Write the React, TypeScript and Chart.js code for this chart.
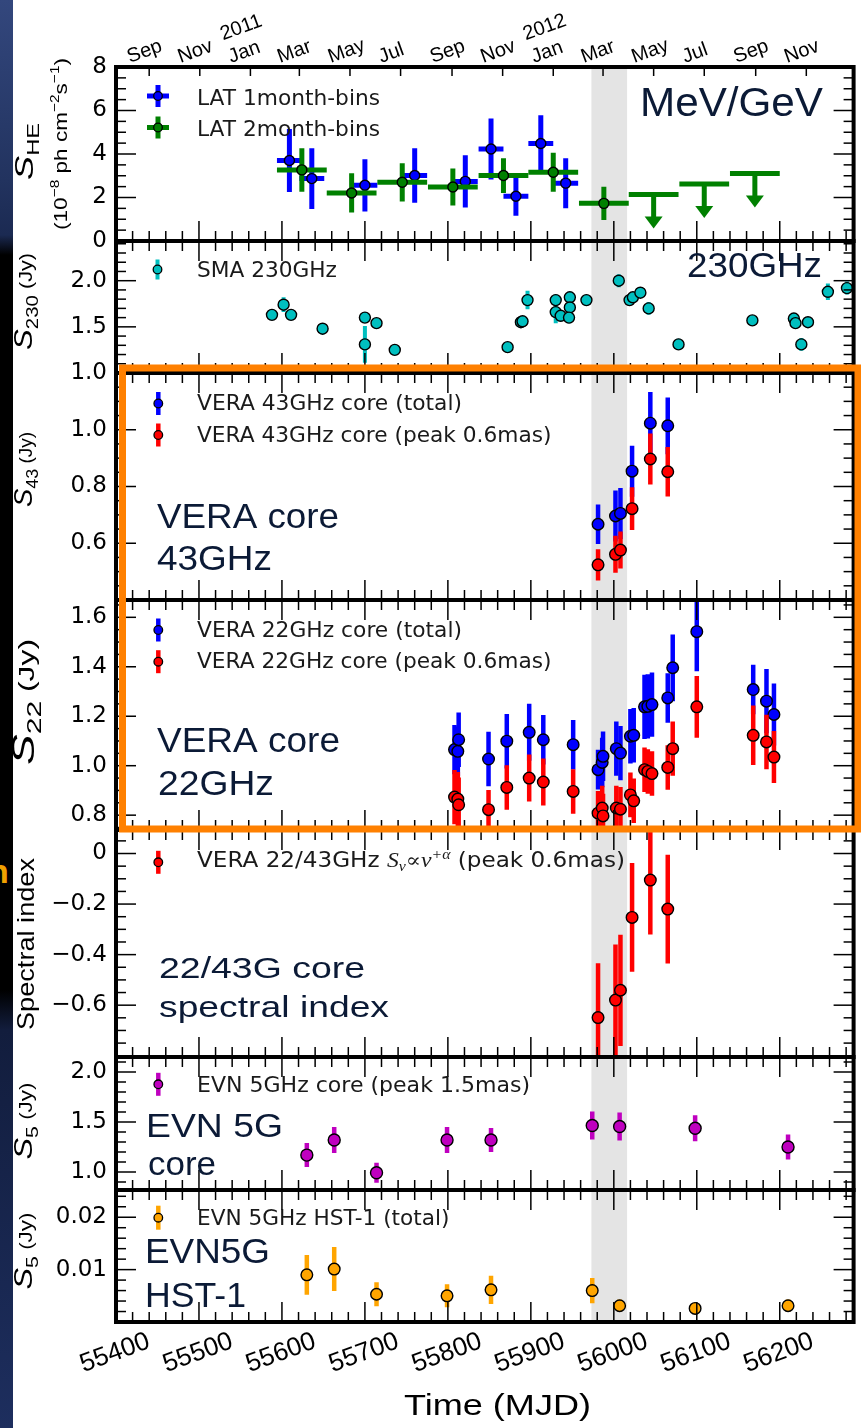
import { useEffect, useRef } from 'react';
import { Chart, registerables } from 'chart.js';

Chart.register(...registerables);

const SANS = '"Liberation Sans", Arial, sans-serif';
const DJV = '"DejaVu Sans", sans-serif';
const SERIF = '"Liberation Serif", "DejaVu Serif", serif';
const NAVY = '#0b1a36';

// ---------------- time axis ----------------
const mjdMin = 55400;
const mjdMax = 56289;
const mjdMinorStep = 20;
const mjdLabelValues = [55400, 55500, 55600, 55700, 55800, 55900, 56000, 56100, 56200];
const monthMjd = [55440, 55501, 55562, 55621, 55682, 55743, 55805, 55866, 55927, 55987, 56048, 56109, 56171, 56232];
const monthLabels = ['Sep', 'Nov', '2011|Jan', 'Mar', 'May', 'Jul', 'Sep', 'Nov', '2012|Jan', 'Mar', 'May', 'Jul', 'Sep', 'Nov'];
const flareWindowMjd = [55973, 56016];

// ---------------- Fermi-LAT ----------------
const latMonthMjd = [55609, 55636, 55700, 55760, 55821, 55852, 55882, 55912, 55942];
const latMonthFlux = [3.7, 2.87, 2.56, 3.01, 2.74, 4.23, 2.06, 4.48, 2.66];
const latMonthErr = [1.45, 1.4, 1.2, 1.25, 1.2, 1.4, 0.9, 1.3, 1.15];
const latMonthHalfBin = 15;
const latBiMjd = [55624, 55684, 55745, 55806, 55867, 55927, 55988];
const latBiFlux = [3.27, 2.21, 2.7, 2.48, 3.01, 3.16, 1.73];
const latBiErr = [1.0, 0.9, 0.88, 0.85, 0.8, 0.9, 0.77];
const latBiHalfBin = 30;
const latUlMjd = [56048, 56109, 56170];
const latUlFlux = [2.14, 2.62, 3.1];

// ---------------- SMA 230 GHz ----------------
const smaMjd = [55588, 55602, 55611, 55649, 55700, 55700, 55714, 55736, 55872, 55888, 55890, 55896, 55930, 55930, 55936, 55947, 55947, 55946, 55967, 56006, 56019, 56023, 56032, 56042, 56078, 56167, 56217, 56219, 56234, 56226, 56258, 56281];
const smaFlux = [1.63, 1.74, 1.63, 1.48, 1.31, 1.6, 1.54, 1.25, 1.28, 1.55, 1.56, 1.79, 1.79, 1.66, 1.62, 1.82, 1.71, 1.6, 1.79, 2.0, 1.79, 1.82, 1.87, 1.7, 1.31, 1.57, 1.59, 1.54, 1.55, 1.31, 1.88, 1.92];
const smaErr = [0.05, 0.08, 0.05, 0.06, 0.2, 0.05, 0.05, 0.04, 0.04, 0.05, 0.05, 0.1, 0.06, 0.12, 0.06, 0.06, 0.06, 0.06, 0.05, 0.07, 0.05, 0.05, 0.05, 0.07, 0.06, 0.05, 0.06, 0.05, 0.05, 0.07, 0.09, 0.07];

// ---------------- VERA 43 GHz ----------------
const v43Mjd = [55981, 56002, 56008, 56022, 56044, 56065];
const v43Total = [0.667, 0.696, 0.705, 0.854, 1.023, 1.014];
const v43TotalErr = [0.07, 0.09, 0.09, 0.09, 0.11, 0.1];
const v43Peak = [0.524, 0.561, 0.576, 0.722, 0.897, 0.852];
const v43PeakErr = [0.055, 0.065, 0.065, 0.075, 0.09, 0.087];

// ---------------- VERA 22 GHz ----------------
const v22Mjd = [55808, 55812, 55813, 55849, 55871, 55898, 55915, 55951, 55981, 55986, 55987, 56003, 56008, 56020, 56024, 56037, 56041, 56046, 56065, 56071, 56100, 56168, 56184, 56193];
const v22Total = [1.065, 1.058, 1.105, 1.027, 1.099, 1.135, 1.105, 1.085, 0.984, 1.013, 1.038, 1.069, 1.051, 1.119, 1.123, 1.238, 1.24, 1.247, 1.274, 1.396, 1.542, 1.308, 1.261, 1.207];
const v22TotalErr = [0.1, 0.1, 0.11, 0.11, 0.11, 0.115, 0.1, 0.1, 0.08, 0.1, 0.1, 0.11, 0.11, 0.11, 0.11, 0.13, 0.13, 0.13, 0.1, 0.135, 0.16, 0.1, 0.13, 0.125];
const v22Peak = [0.873, 0.865, 0.842, 0.822, 0.912, 0.95, 0.934, 0.896, 0.808, 0.829, 0.797, 0.829, 0.824, 0.882, 0.858, 0.984, 0.977, 0.968, 0.993, 1.069, 1.238, 1.123, 1.096, 1.035];
const v22PeakErr = [0.11, 0.11, 0.11, 0.08, 0.09, 0.095, 0.095, 0.09, 0.09, 0.09, 0.09, 0.09, 0.09, 0.09, 0.09, 0.09, 0.09, 0.09, 0.09, 0.11, 0.125, 0.12, 0.11, 0.105];

// ---------------- 22/43 GHz spectral index ----------------
const siMjd = [55981, 56002, 56008, 56022, 56044, 56065];
const siValue = [-0.649, -0.58, -0.541, -0.253, -0.105, -0.22];
const siErr = [0.215, 0.22, 0.22, 0.215, 0.215, 0.215];

// ---------------- EVN 5 GHz ----------------
const evnMjd = [55630, 55663, 55714, 55799, 55852, 55974, 56007, 56098, 56210];
const evnCore = [1.169, 1.32, 0.993, 1.32, 1.32, 1.465, 1.455, 1.437, 1.25];
const evnCoreErr = [0.12, 0.13, 0.1, 0.13, 0.12, 0.14, 0.14, 0.13, 0.125];
const evnHst = [0.009, 0.0101, 0.0053, 0.005, 0.00615, 0.006, 0.0031, 0.0026, 0.0031];
const evnHstErr = [0.0038, 0.0042, 0.0023, 0.0022, 0.0027, 0.0024, 0.0012, 0.0009, 0.0012];

// ---------------- y tick labels ----------------
const sheTickValues = [0, 2, 4, 6, 8];
const sheTickLabels = ['0', '2', '4', '6', '8'];
const s230TickValues = [1.0, 1.5, 2.0];
const s230TickLabels = ['1.0', '1.5', '2.0'];
const s43TickValues = [0.6, 0.8, 1.0];
const s43TickLabels = ['0.6', '0.8', '1.0'];
const s22TickValues = [0.8, 1.0, 1.2, 1.4, 1.6];
const s22TickLabels = ['0.8', '1.0', '1.2', '1.4', '1.6'];
const siTickValues = [0, -0.2, -0.4, -0.6];
const siTickLabels = ['0', '\u22120.2', '\u22120.4', '\u22120.6'];
const s5CoreTickValues = [1.0, 1.5, 2.0];
const s5CoreTickLabels = ['1.0', '1.5', '2.0'];
const s5HstTickValues = [0.01, 0.02];
const s5HstTickLabels = ['0.01', '0.02'];

// panels, top to bottom
const panels = [
  { id: 'yHE', min: 0, max: 8, minor: 0.5, tv: sheTickValues, tl: sheTickLabels, h: 174 },
  { id: 'y230', min: 1.0, max: 2.43, minor: 0.1, tv: s230TickValues, tl: s230TickLabels, h: 132 },
  { id: 'y43', min: 0.4, max: 1.2, minor: 0.05, tv: s43TickValues, tl: s43TickLabels, h: 227 },
  { id: 'y22', min: 0.74, max: 1.67, minor: 0.05, tv: s22TickValues, tl: s22TickLabels, h: 230 },
  { id: 'ySI', min: -0.805, max: 0.093, minor: 0.05, tv: siTickValues, tl: siTickLabels, h: 227 },
  { id: 'y5c', min: 0.82, max: 2.15, minor: 0.1, tv: s5CoreTickValues, tl: s5CoreTickLabels, h: 133 },
  { id: 'y5h', min: 0, max: 0.0252, minor: 0.002, tv: s5HstTickValues, tl: s5HstTickLabels, h: 132 },
];

function gridValues(min: number, max: number, step: number) {
  const out: number[] = [];
  const k0 = Math.ceil(min / step - 1e-9);
  const k1 = Math.floor(max / step + 1e-9);
  for (let k = k0; k <= k1; k++) out.push(+(k * step).toFixed(6));
  return out;
}

const pts = (xs: number[], ys: number[]) => xs.map((x, i) => ({ x, y: ys[i] }));

function line(ctx: any, x1: number, y1: number, x2: number, y2: number) {
  ctx.beginPath();
  ctx.moveTo(x1, y1);
  ctx.lineTo(x2, y2);
  ctx.stroke();
}

function fitText(ctx: any, text: string, x: number, y: number, font: string, width: number, color: string) {
  ctx.save();
  ctx.font = font;
  ctx.fillStyle = color;
  ctx.textAlign = 'left';
  ctx.textBaseline = 'alphabetic';
  const w = ctx.measureText(text).width;
  ctx.translate(x, y);
  ctx.scale(width / w, 1);
  ctx.fillText(text, 0, 0);
  ctx.restore();
}

type Seg = { t: string; f: string; dy?: number };
function richText(ctx: any, segs: Seg[], x: number, y: number, width: number, color: string, rotate: number, center: boolean) {
  ctx.save();
  ctx.fillStyle = color;
  ctx.textAlign = 'left';
  ctx.textBaseline = 'alphabetic';
  let total = 0;
  for (const s of segs) {
    ctx.font = s.f;
    total += ctx.measureText(s.t).width;
  }
  ctx.translate(x, y);
  if (rotate) ctx.rotate(rotate);
  ctx.scale(width / total, 1);
  let cx = center ? -total / 2 : 0;
  for (const s of segs) {
    ctx.font = s.f;
    ctx.fillText(s.t, cx, s.dy || 0);
    cx += ctx.measureText(s.t).width;
  }
  ctx.restore();
}

function legendMarker(ctx: any, x: number, y: number, fill: string, half: number, barW: number, cross: boolean) {
  ctx.save();
  ctx.strokeStyle = fill;
  ctx.lineWidth = barW;
  line(ctx, x, y - half, x, y + half);
  if (cross) line(ctx, x - half, y, x + half, y);
  ctx.beginPath();
  ctx.arc(x, y, 4.3, 0, Math.PI * 2);
  ctx.fillStyle = fill;
  ctx.fill();
  ctx.lineWidth = 1.3;
  ctx.strokeStyle = '#000';
  ctx.stroke();
  ctx.restore();
}

const sTitle = (sub: string, big = 1): Seg[] => [
  { t: 'S', f: `italic ${26 * big}px ${SANS}` },
  { t: sub, f: `${17 * big}px ${SANS}`, dy: 6 * big },
  { t: ' (Jy)', f: `${18 * big}px ${SANS}` },
];

const panelPlugin = {
  id: 'panelPlugin',
  beforeDatasetsDraw(chart: any) {
    const { ctx, chartArea } = chart;
    const xs = chart.scales.x;
    const a = xs.getPixelForValue(flareWindowMjd[0]);
    const b = xs.getPixelForValue(flareWindowMjd[1]);
    ctx.save();
    ctx.fillStyle = '#e4e4e4';
    ctx.fillRect(a, chartArea.top, b - a, chartArea.bottom - chartArea.top);
    ctx.restore();
  },
  beforeDatasetDraw(chart: any, args: any) {
    const ds = chart.data.datasets[args.index];
    const ctx = chart.ctx;
    const xs = chart.scales.x;
    const ys = chart.scales[ds.yAxisID];
    const { left, right } = chart.chartArea;
    ctx.save();
    ctx.beginPath();
    ctx.rect(left, ys.top, right - left, ys.bottom - ys.top);
    ctx.clip();
    ctx.strokeStyle = ds.barColor;
    ctx.fillStyle = ds.barColor;
    ctx.lineWidth = ds.barWidth;
    ctx.lineCap = 'butt';
    ds.data.forEach((p: any, i: number) => {
      const px = xs.getPixelForValue(p.x);
      const py = ys.getPixelForValue(p.y);
      if (ds.errY) {
        const e = ds.errY[i];
        line(ctx, px, ys.getPixelForValue(p.y - e), px, ys.getPixelForValue(p.y + e));
      }
      if (ds.errX) {
        line(ctx, xs.getPixelForValue(p.x - ds.errX), py, xs.getPixelForValue(p.x + ds.errX), py);
      }
      if (ds.upperLimit) {
        line(ctx, px, py, px, py + 24);
        ctx.beginPath();
        ctx.moveTo(px - 9, py + 22);
        ctx.lineTo(px + 9, py + 22);
        ctx.lineTo(px, py + 34);
        ctx.closePath();
        ctx.fill();
      }
    });
    ctx.restore();
  },
  afterDatasetsDraw(chart: any) {
    const { ctx, chartArea } = chart;
    const L = chartArea.left;
    const R = chartArea.right;
    const xs = chart.scales.x;
    const xt = chart.scales.xTop;
    ctx.save();
    ctx.strokeStyle = '#000';
    ctx.lineWidth = 1.5;
    panels.forEach((p, pi) => {
      const ys = chart.scales[p.id];
      ys.ticks.forEach((t: any) => {
        const y = ys.getPixelForValue(t.value);
        if (y <= ys.top + 1 || y >= ys.bottom - 1) return;
        const len = t.label ? 20 : 10;
        line(ctx, L, y, L + len, y);
        line(ctx, R - len, y, R, y);
      });
      xs.ticks.forEach((t: any) => {
        const x = xs.getPixelForValue(t.value);
        if (x <= L + 1 || x >= R - 1) return;
        const len = t.value % 100 === 0 ? 20 : 10;
        line(ctx, x, ys.bottom, x, ys.bottom - len);
        if (pi > 0) line(ctx, x, ys.top, x, ys.top + len);
      });
      if (pi === 0) {
        xt.ticks.forEach((t: any) => {
          const x = xt.getPixelForValue(t.value);
          line(ctx, x, ys.top, x, ys.top + 9);
        });
      }
    });
    ctx.lineWidth = 4;
    panels.forEach((p) => {
      const ys = chart.scales[p.id];
      ctx.strokeRect(L, ys.top, R - L, ys.bottom - ys.top);
    });
    ctx.restore();

    // legends
    const legFont = `20.5px ${DJV}`;
    const legColor = '#1a1a1a';
    legendMarker(ctx, 158, 96, '#0000ff', 11, 5, true);
    legendMarker(ctx, 158, 127.5, '#008000', 11, 5, true);
    fitText(ctx, 'LAT 1month-bins', 197, 105, legFont, 183, legColor);
    fitText(ctx, 'LAT 2month-bins', 197, 136, legFont, 183, legColor);
    legendMarker(ctx, 157.5, 269.5, '#00bfbf', 10, 4, false);
    fitText(ctx, 'SMA 230GHz', 197, 277.3, legFont, 140, legColor);
    legendMarker(ctx, 158.3, 403.5, '#0000ff', 11.5, 4.5, false);
    legendMarker(ctx, 158.3, 435, '#ff0000', 11.5, 4.5, false);
    fitText(ctx, 'VERA 43GHz core (total)', 197, 410, legFont, 265, legColor);
    fitText(ctx, 'VERA 43GHz core (peak 0.6mas)', 197, 441.7, legFont, 354.5, legColor);
    legendMarker(ctx, 158.3, 630, '#0000ff', 11.5, 4.5, false);
    legendMarker(ctx, 158.3, 661.7, '#ff0000', 11.5, 4.5, false);
    fitText(ctx, 'VERA 22GHz core (total)', 197, 636.7, legFont, 265, legColor);
    fitText(ctx, 'VERA 22GHz core (peak 0.6mas)', 197, 668.3, legFont, 354.5, legColor);
    legendMarker(ctx, 158.3, 862.3, '#ff0000', 11.5, 4.5, false);
    richText(ctx, [
      { t: 'VERA 22/43GHz ', f: legFont },
      { t: 'S', f: `italic 21px ${SERIF}` },
      { t: '\u03bd', f: `italic 14px ${SERIF}`, dy: 4 },
      { t: '\u221d', f: `20px ${SERIF}` },
      { t: '\u03bd', f: `italic 21px ${SERIF}` },
      { t: '+\u03b1', f: `italic 14px ${SERIF}`, dy: -8 },
      { t: ' (peak 0.6mas)', f: legFont },
    ], 197, 866.7, 428, legColor, 0, false);
    legendMarker(ctx, 158.3, 1084.3, '#bf00bf', 11.5, 4.5, false);
    fitText(ctx, 'EVN 5GHz core (peak 1.5mas)', 197, 1091.7, legFont, 333, legColor);
    legendMarker(ctx, 158.3, 1217.7, '#ffa500', 12, 4.5, false);
    fitText(ctx, 'EVN 5GHz HST-1 (total)', 197, 1225, legFont, 252.5, legColor);

    // y-axis titles
    const up = -Math.PI / 2;
    richText(ctx, [
      { t: 'S', f: `italic 26px ${SANS}` },
      { t: 'HE', f: `17px ${SANS}`, dy: 6 },
    ], 33, 151.5, 57, '#000', up, true);
    richText(ctx, [
      { t: '(10', f: `19px ${SANS}` },
      { t: '\u22128', f: `13px ${SANS}`, dy: -8 },
      { t: ' ph cm', f: `19px ${SANS}` },
      { t: '\u22122', f: `13px ${SANS}`, dy: -8 },
      { t: 's', f: `19px ${SANS}` },
      { t: '\u22121', f: `13px ${SANS}`, dy: -8 },
      { t: ')', f: `19px ${SANS}` },
    ], 67, 144, 172, '#000', up, true);
    richText(ctx, sTitle('230'), 32, 301.5, 97, '#000', up, true);
    richText(ctx, sTitle('43'), 32, 469.5, 75, '#000', up, true);
    richText(ctx, sTitle('22', 1.2), 34, 702, 126, '#000', up, true);
    richText(ctx, [{ t: 'Spectral index', f: `24px ${SANS}` }], 34, 944, 172, '#000', up, true);
    richText(ctx, sTitle('5'), 32, 1121, 77, '#000', up, true);
    richText(ctx, sTitle('5'), 32, 1251, 77, '#000', up, true);

    // x title
    fitText(ctx, 'Time (MJD)', 404, 1415, `29px ${SANS}`, 187, '#000');

    // annotations
    fitText(ctx, 'MeV/GeV', 640, 116, `40px ${SANS}`, 183, NAVY);
    fitText(ctx, '230GHz', 687, 277, `35px ${SANS}`, 135, NAVY);
    fitText(ctx, 'VERA core', 157, 528, `35px ${SANS}`, 182, NAVY);
    fitText(ctx, '43GHz', 157, 570, `35px ${SANS}`, 115, NAVY);
    fitText(ctx, 'VERA core', 157, 752, `35px ${SANS}`, 183, NAVY);
    fitText(ctx, '22GHz', 158, 795, `35px ${SANS}`, 116, NAVY);
    fitText(ctx, '22/43G core', 159, 978, `30px ${SANS}`, 206, NAVY);
    fitText(ctx, 'spectral index', 159, 1017, `30px ${SANS}`, 230, NAVY);
    fitText(ctx, 'EVN 5G', 146, 1137, `34px ${SANS}`, 137, NAVY);
    fitText(ctx, 'core', 148, 1175, `34px ${SANS}`, 68, NAVY);
    fitText(ctx, 'EVN5G', 145, 1263, `35px ${SANS}`, 125, NAVY);
    fitText(ctx, 'HST-1', 145, 1307, `35px ${SANS}`, 101, NAVY);

    // highlight box
    ctx.save();
    ctx.strokeStyle = '#ff8000';
    ctx.lineWidth = 7;
    ctx.strokeRect(122.5, 368, 735.5, 461);
    ctx.restore();
  },
};

function makeYAxis(p: any, weight: number) {
  const ticks = gridValues(p.min, p.max, p.minor);
  return {
    type: 'linear',
    position: 'left',
    stack: 'panels',
    stackWeight: p.h,
    weight,
    min: p.min,
    max: p.max,
    bounds: 'data',
    afterBuildTicks: (s: any) => {
      s.ticks = ticks.map((v) => ({ value: v }));
    },
    afterFit: (s: any) => {
      s.width = 116;
    },
    grid: { display: false, drawTicks: false },
    border: { display: false },
    ticks: {
      autoSkip: false,
      padding: 9,
      color: '#000',
      font: { family: DJV, size: 23 },
      callback: (v: number) => {
        const i = p.tv.findIndex((t: number) => Math.abs(t - v) < 1e-9);
        return i >= 0 ? p.tl[i] : '';
      },
    },
  };
}

function buildConfig() {
  const minorMjd = gridValues(mjdMin, mjdMax, mjdMinorStep);
  const scales: any = {
    x: {
      type: 'linear',
      position: 'bottom',
      min: mjdMin,
      max: mjdMax,
      bounds: 'data',
      afterBuildTicks: (s: any) => {
        s.ticks = minorMjd.map((v) => ({ value: v }));
      },
      afterFit: (s: any) => {
        s.height = 106;
      },
      grid: { display: false, drawTicks: false },
      border: { display: false },
      ticks: {
        autoSkip: false,
        minRotation: 20,
        maxRotation: 20,
        labelOffset: 33,
        padding: 4,
        color: '#000',
        font: { family: SANS, size: 26 },
        callback: (v: number) => (mjdLabelValues.includes(v) ? String(v) : ''),
      },
    },
    xTop: {
      type: 'linear',
      position: 'top',
      min: mjdMin,
      max: mjdMax,
      bounds: 'data',
      afterBuildTicks: (s: any) => {
        s.ticks = monthMjd.map((v) => ({ value: v }));
      },
      afterFit: (s: any) => {
        s.height = 67;
      },
      grid: { display: false, drawTicks: false },
      border: { display: false },
      ticks: {
        autoSkip: false,
        minRotation: 20,
        maxRotation: 20,
        labelOffset: -13,
        padding: -2,
        color: '#000',
        font: { family: SANS, size: 20 },
        callback: (_v: number, i: number) => monthLabels[i].split('|'),
      },
    },
  };
  const rev = [...panels].reverse();
  rev.forEach((p, k) => {
    scales[p.id] = makeYAxis(p, k + 1);
  });

  const base = { pointBorderColor: '#000', pointBorderWidth: 1.4, pointHoverRadius: 0 };
  const datasets: any[] = [
    { ...base, label: 'LAT 1month-bins', data: pts(latMonthMjd, latMonthFlux), yAxisID: 'yHE', pointRadius: 5, pointBackgroundColor: '#0000ff', errY: latMonthErr, errX: latMonthHalfBin, barColor: '#0000ff', barWidth: 5, order: 20 },
    { ...base, label: 'LAT 2month-bins', data: pts(latBiMjd, latBiFlux), yAxisID: 'yHE', pointRadius: 5, pointBackgroundColor: '#008000', errY: latBiErr, errX: latBiHalfBin, barColor: '#008000', barWidth: 5, order: 19 },
    { ...base, label: 'LAT upper limits', data: pts(latUlMjd, latUlFlux), yAxisID: 'yHE', pointRadius: 0, upperLimit: true, errX: latBiHalfBin, barColor: '#008000', barWidth: 5, order: 18 },
    { ...base, label: 'SMA 230GHz', data: pts(smaMjd, smaFlux), yAxisID: 'y230', pointRadius: 5.5, pointBackgroundColor: '#00bfbf', errY: smaErr, barColor: '#00bfbf', barWidth: 4, order: 17 },
    { ...base, label: 'VERA 43GHz core (total)', data: pts(v43Mjd, v43Total), yAxisID: 'y43', pointRadius: 5.8, pointBackgroundColor: '#0000ff', errY: v43TotalErr, barColor: '#0000ff', barWidth: 4.5, order: 16 },
    { ...base, label: 'VERA 43GHz core (peak 0.6mas)', data: pts(v43Mjd, v43Peak), yAxisID: 'y43', pointRadius: 5.8, pointBackgroundColor: '#ff0000', errY: v43PeakErr, barColor: '#ff0000', barWidth: 4.5, order: 15 },
    { ...base, label: 'VERA 22GHz core (total)', data: pts(v22Mjd, v22Total), yAxisID: 'y22', pointRadius: 5.8, pointBackgroundColor: '#0000ff', errY: v22TotalErr, barColor: '#0000ff', barWidth: 4.5, order: 14 },
    { ...base, label: 'VERA 22GHz core (peak 0.6mas)', data: pts(v22Mjd, v22Peak), yAxisID: 'y22', pointRadius: 5.8, pointBackgroundColor: '#ff0000', errY: v22PeakErr, barColor: '#ff0000', barWidth: 4.5, order: 13 },
    { ...base, label: 'VERA 22/43GHz spectral index', data: pts(siMjd, siValue), yAxisID: 'ySI', pointRadius: 5.8, pointBackgroundColor: '#ff0000', errY: siErr, barColor: '#ff0000', barWidth: 4.5, order: 12 },
    { ...base, label: 'EVN 5GHz core (peak 1.5mas)', data: pts(evnMjd, evnCore), yAxisID: 'y5c', pointRadius: 6, pointBackgroundColor: '#bf00bf', errY: evnCoreErr, barColor: '#bf00bf', barWidth: 4.5, order: 11 },
    { ...base, label: 'EVN 5GHz HST-1 (total)', data: pts(evnMjd, evnHst), yAxisID: 'y5h', pointRadius: 5.8, pointBackgroundColor: '#ffa500', errY: evnHstErr, barColor: '#ffa500', barWidth: 4.5, order: 10 },
  ];

  return {
    type: 'scatter',
    data: { datasets },
    options: {
      responsive: false,
      animation: false,
      devicePixelRatio: 1,
      events: [],
      layout: { padding: { left: 0, right: 5, top: 0, bottom: 0 } },
      plugins: { legend: { display: false }, tooltip: { enabled: false }, title: { display: false } },
      scales,
    },
    plugins: [panelPlugin],
  };
}

export default function App() {
  const ref = useRef<HTMLCanvasElement>(null);
  useEffect(() => {
    document.body.style.margin = '0';
    document.body.style.overflow = 'hidden';
    const chart = new Chart(ref.current as HTMLCanvasElement, buildConfig() as any);
    return () => chart.destroy();
  }, []);
  return (
    <div style={{ position: 'relative', width: 861, height: 1428, background: '#fff', overflow: 'hidden' }}>
      <canvas ref={ref} width={861} height={1428} style={{ position: 'absolute', left: 0, top: 0, width: 861, height: 1428 }} />
      <div
        style={{
          position: 'absolute',
          left: 0,
          top: 0,
          width: 13,
          height: 1428,
          overflow: 'hidden',
          background:
            'linear-gradient(to bottom, #33477d 0px, #22335f 180px, #1b2a52 235px, #000 255px, #000 990px, #121d3d 1030px, #1d2e5e 1428px)',
        }}
      >
        <span style={{ position: 'absolute', left: -12, top: 852, color: '#f0a000', font: `bold 34px ${SANS}` }}>n</span>
      </div>
    </div>
  );
}
